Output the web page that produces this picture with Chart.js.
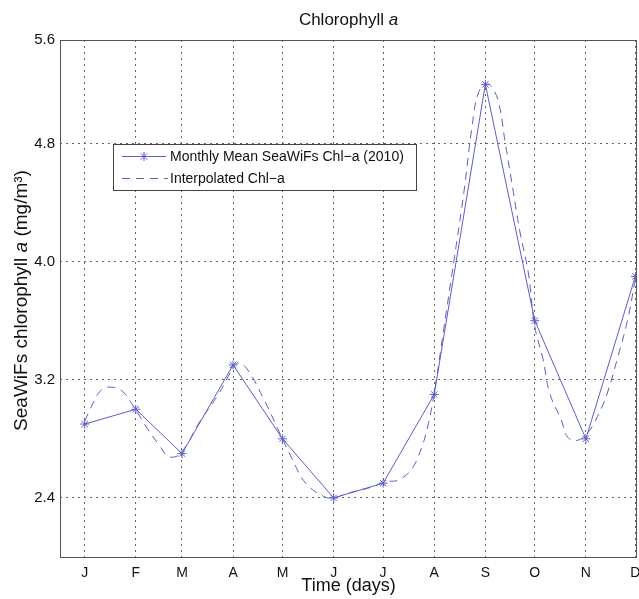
<!DOCTYPE html>
<html lang="en">
<head>
    <meta charset="UTF-8">
    <title>Chlorophyll a</title>
    <script src="https://cdn.jsdelivr.net/npm/chart.js"></script>
    <style>
        body {
            margin: 0;
            background: #fff;
        }
        canvas {
            display: block;
        }
    </style>
</head>
<body>
    <canvas id="chl" width="639" height="599"></canvas>

    <script>
        // month ticks (mid-month day of year) and labels
        const monthDays = [15, 46, 74, 105, 135, 166, 196, 227, 258, 288, 319, 349];
        const monthLabels = ['J', 'F', 'M', 'A', 'M', 'J', 'J', 'A', 'S', 'O', 'N', 'D'];

        // monthly mean SeaWiFS chl-a (2010)
        const monthlyMean = [2.9, 3.0, 2.7, 3.3, 2.8, 2.4, 2.5, 3.1, 5.2, 3.6, 2.8, 3.9];

        // dashed curve
        const interpDays = [15, 20, 25, 31, 38, 44, 53, 60, 66, 73, 85, 96, 102, 107, 113, 124, 132, 141, 149,
            160, 166, 174, 188, 198, 205, 213, 219, 223, 227, 233, 239, 245, 250, 254, 259, 262, 266, 270,
            275, 279, 284, 288, 293, 297, 304, 308, 314, 320, 326, 332, 338, 344, 349];
        const interpValues = [2.92, 3.04, 3.13, 3.15, 3.12, 3.03, 2.87, 2.76, 2.68, 2.70, 2.92, 3.10, 3.22, 3.31, 3.28,
            3.06, 2.87, 2.66, 2.50, 2.41, 2.40, 2.43, 2.47, 2.51, 2.52, 2.59, 2.73, 2.88, 3.11, 3.56, 4.01,
            4.47, 4.92, 5.15, 5.20, 5.18, 5.08, 4.81, 4.47, 4.20, 3.93, 3.56, 3.34, 3.11, 2.93, 2.81, 2.79,
            2.84, 2.95, 3.11, 3.34, 3.59, 3.88];

        // y ticks as printed on the axis
        const yTickValues = [2.4, 3.2, 4.0, 4.8, 5.5];
        const yTickLabels = ['2.4', '3.2', '4.0', '4.8', '5.6'];

        const lineColor = '#5b5fc7';
        const FONT = '"Liberation Sans", Arial, sans-serif';

        // draws frame, titles (with italic "a") and the legend box
        const decor = {
            id: 'decor',
            beforeDraw(chart) {
                const ctx = chart.ctx;
                ctx.save();
                ctx.fillStyle = '#fff';
                ctx.fillRect(0, 0, chart.width, chart.height);
                ctx.restore();
            },
            afterDraw(chart) {
                const ctx = chart.ctx;
                const a = chart.chartArea;
                ctx.save();

                // axes box
                ctx.strokeStyle = '#555';
                ctx.lineWidth = 1;
                ctx.strokeRect(a.left + 0.5, a.top + 0.5, a.right - a.left - 1, a.bottom - a.top);

                // title
                const cx = (a.left + a.right) / 2;
                drawMixed(ctx, [['Chlorophyll ', 'normal'], ['a', 'italic']], 17, cx, 20);

                // x title
                ctx.fillStyle = '#111';
                ctx.font = '18px ' + FONT;
                ctx.textAlign = 'center';
                ctx.textBaseline = 'middle';
                ctx.fillText('Time (days)', cx, 586);

                // y title, rotated
                ctx.save();
                ctx.translate(22, (a.top + a.bottom) / 2 + 2);
                ctx.rotate(-Math.PI / 2);
                drawMixed(ctx, [['SeaWiFs chlorophyll ', 'normal'], ['a', 'italic'], [' (mg/m\u00b3)', 'normal']], 19, 0, 0);
                ctx.restore();

                // legend
                const lx = a.left + 53, ly = a.top + 104, lw = 303, lh = 46;
                ctx.fillStyle = '#fff';
                ctx.fillRect(lx, ly, lw, lh);
                ctx.strokeStyle = '#444';
                ctx.strokeRect(lx + 0.5, ly + 0.5, lw, lh);

                ctx.strokeStyle = lineColor;
                ctx.lineWidth = 1;
                ctx.beginPath();
                ctx.moveTo(lx + 9, ly + 12.5);
                ctx.lineTo(lx + 53, ly + 12.5);
                ctx.stroke();
                Chart.helpers.drawPoint(ctx, {pointStyle: 'star', radius: 4.5, borderWidth: 1}, lx + 31, ly + 12.5);

                ctx.setLineDash([8, 6]);
                ctx.beginPath();
                ctx.moveTo(lx + 9, ly + 34.5);
                ctx.lineTo(lx + 55, ly + 34.5);
                ctx.stroke();
                ctx.setLineDash([]);

                ctx.fillStyle = '#111';
                ctx.font = '14px ' + FONT;
                ctx.textAlign = 'left';
                ctx.textBaseline = 'middle';
                ctx.fillText('Monthly Mean SeaWiFs Chl\u2212a (2010)', lx + 57, ly + 13);
                ctx.fillText('Interpolated Chl\u2212a', lx + 57, ly + 35);

                ctx.restore();
            }
        };

        // text pieces with different font styles, centered on x
        function drawMixed(ctx, parts, size, x, y) {
            ctx.textBaseline = 'middle';
            ctx.textAlign = 'left';
            ctx.fillStyle = '#111';
            let total = 0;
            parts.forEach(p => {
                ctx.font = p[1] + ' ' + size + 'px ' + FONT;
                total += ctx.measureText(p[0]).width;
            });
            let pos = x - total / 2;
            parts.forEach(p => {
                ctx.font = p[1] + ' ' + size + 'px ' + FONT;
                ctx.fillText(p[0], pos, y);
                pos += ctx.measureText(p[0]).width;
            });
        }

        const gridStyle = {
            color: '#666',
            lineWidth: 1,
            drawTicks: false
        };

        new Chart(document.getElementById('chl').getContext('2d'), {
            type: 'line',
            data: {
                datasets: [{
                    label: 'Monthly Mean SeaWiFs Chl-a (2010)',
                    data: monthDays.map((d, i) => ({x: d, y: monthlyMean[i]})),
                    borderColor: lineColor,
                    backgroundColor: lineColor,
                    borderWidth: 1,
                    pointStyle: 'star',
                    pointRadius: 4.5,
                    pointBorderWidth: 1,
                    tension: 0,
                    fill: false
                }, {
                    label: 'Interpolated Chl-a',
                    data: interpDays.map((d, i) => ({x: d, y: interpValues[i]})),
                    borderColor: lineColor,
                    borderWidth: 1,
                    borderDash: [8, 6],
                    pointRadius: 0,
                    tension: 0.4,
                    fill: false
                }]
            },
            options: {
                responsive: false,
                animation: false,
                layout: {
                    autoPadding: false,
                    padding: {top: 40, right: 2, left: 0, bottom: 0}
                },
                plugins: {
                    legend: {display: false},
                    tooltip: {enabled: false}
                },
                scales: {
                    x: {
                        type: 'linear',
                        min: 0,
                        max: 350,
                        afterBuildTicks: scale => {
                            scale.ticks = monthDays.map(v => ({value: v}));
                        },
                        afterFit: scale => {
                            scale.height = 42;
                            scale.paddingLeft = 0;
                            scale.paddingRight = 0;
                        },
                        ticks: {
                            padding: 8,
                            maxRotation: 0,
                            color: '#111',
                            font: {family: FONT, size: 14},
                            callback: (v, i) => monthLabels[i]
                        },
                        grid: gridStyle,
                        border: {display: false, dash: [2, 4]}
                    },
                    y: {
                        min: 2.0,
                        max: 5.5,
                        afterBuildTicks: scale => {
                            scale.ticks = yTickValues.map(v => ({value: v}));
                        },
                        afterFit: scale => {
                            scale.width = 60;
                            scale.paddingTop = 0;
                            scale.paddingBottom = 0;
                        },
                        ticks: {
                            padding: 5,
                            color: '#111',
                            font: {family: FONT, size: 15},
                            callback: (v, i) => yTickLabels[i]
                        },
                        grid: gridStyle,
                        border: {display: false, dash: [2, 4]}
                    }
                }
            },
            plugins: [decor]
        });
    </script>
</body>
</html>
